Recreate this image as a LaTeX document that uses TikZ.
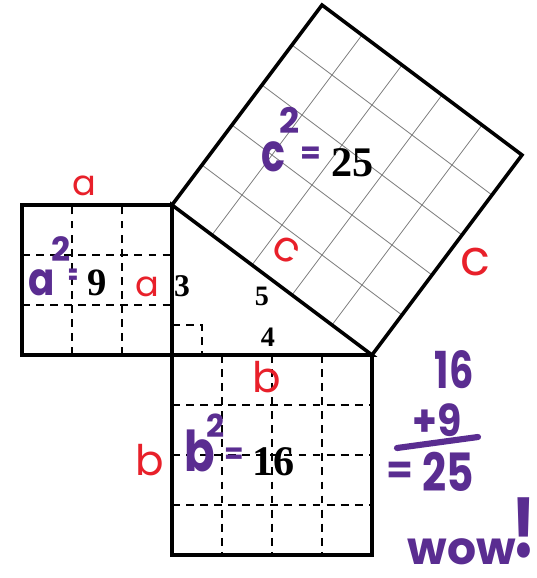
\documentclass[tikz,border=0pt]{standalone}
\usepackage{fontspec}
\setmainfont{Liberation Serif}
\newfontfamily\hand{Poppins}
\usetikzlibrary{calc}
\definecolor{ink}{HTML}{000000}
\definecolor{pen}{HTML}{5A2D91}
\definecolor{redpen}{HTML}{E8202A}
\definecolor{gridgray}{HTML}{7A7A7A}
\newcommand{\fsz}[1]{\fontsize{#1}{#1}\selectfont}
\tikzset{
  sq/.style={draw=ink, line width=2pt},
  cut/.style={draw=ink, dashed, dash pattern=on 4.5pt off 3.5pt, line width=1.1pt},
  fine/.style={draw=gridgray, line width=0.45pt},
  num/.style={font=\bfseries, text=ink, inner sep=0pt},
  redl/.style={font=\hand, text=redpen, inner sep=0pt},
  purl/.style={font=\hand\bfseries, text=pen, inner sep=0pt}
}

\begin{document}
\begin{tikzpicture}
  \fill[white] (-3.44,-4.46) rectangle (7.3,7.1);
  \useasboundingbox (-3.44,-4.46) rectangle (7.3,7.1);

  % triangle corners and square on the hypotenuse
  \coordinate (C) at (0,0);
  \coordinate (A) at (0,3);
  \coordinate (B) at (4,0);
  \coordinate (D) at ($(A)+(3,4)$);
  \coordinate (E) at ($(B)+(3,4)$);

  \foreach \i in {1,...,4}{
    \draw[fine] ($(A)!\i/5!(B)$) -- ($(D)!\i/5!(E)$);
    \draw[fine] ($(A)!\i/5!(D)$) -- ($(B)!\i/5!(E)$);
  }

  % dashed unit grids
  \foreach \i in {1,2}{
    \draw[cut] (-\i,0) -- (-\i,3);
    \draw[cut] (-3,\i) -- (0,\i);
  }
  \foreach \i in {1,2,3}{
    \draw[cut] (\i,0) -- (\i,-4);
    \draw[cut] (0,-\i) -- (4,-\i);
  }
  \draw[cut] (0,0.6) -- (0.6,0.6) -- (0.6,0);

  \draw[sq] (-3,0) rectangle (0,3);
  \draw[sq] (0,0) rectangle (4,-4);
  \draw[sq] (A) -- (D) -- (E) -- (B);
  \draw[sq] (A) -- (C) -- (B) -- cycle;

  % printed numbers
  \node[num] (n3) at (0.2,1.38) {\fsz{18pt}3};
  \node[num] (n5) at (1.8,1.18) {\fsz{16pt}5};
  \node[num] (n4) at (1.92,0.36) {\fsz{16pt}4};
  \node[num] (n9) at (-1.5,1.44) {\fsz{22pt}9};
  \node[num] (n16) at (2.04,-2.14) {\fsz{24pt}16};
  \node[num] (n25) at (3.62,3.84) {\fsz{24pt}25};

  % red side names
  \node[redl] (atop) at (-1.76,3.38) {\fsz{20pt}a};
  \node[redl] (aside) at (-0.5,1.36) {\fsz{20pt}a};
  \node[redl] (btop) at (1.9,-0.44) {\fsz{24pt}b};
  \node[redl] (bside) at (-0.44,-2.1) {\fsz{24pt}b};
  \node[redl, rotate=-30] (chyp) at (2.28,2.1) {\fsz{24pt}c};
  \node[redl] (cside) at (6.06,1.86) {\fsz{28pt}c};

  % purple squares
  \node[purl, xscale=0.85] (asq) at (-2.6,1.44) {\fsz{26pt}a};
  \node[purl] (atwo) at (-2.22,2.12) {\fsz{19pt}2};
  \node[purl, xscale=0.5] (aeq) at (-1.97,1.56) {\fsz{16pt}=};
  \node[purl, xscale=0.8] (bsq) at (0.56,-1.92) {\fsz{32pt}b};
  \node[purl] (btwo) at (0.88,-1.42) {\fsz{18pt}2};
  \node[purl] (beq) at (1.25,-2.02) {\fsz{16pt}=};
  \node[purl, xscale=0.75] (csq) at (2.02,3.96) {\fsz{30pt}c};
  \node[purl] (ctwo) at (2.36,4.7) {\fsz{20pt}2};
  \node[purl] (ceq) at (2.78,4.0) {\fsz{17pt}=};

  % the sum
  \node[purl, xscale=0.75] (s16) at (5.64,-0.3) {\fsz{29pt}16};
  \node[purl, xscale=0.9] (s9) at (5.3,-1.3) {\fsz{25pt}+9};
  \coordinate (ls) at (4.5,-1.86);
  \coordinate (le) at (6.12,-1.64);
  \draw[pen, line width=3.5pt, line cap=round] (ls) -- (le);
  \node[purl] (seq) at (4.56,-2.36) {\fsz{22pt}=};
  \node[purl, xscale=0.8] (s25) at (5.52,-2.34) {\fsz{30pt}25};
  \node[purl] (wow) at (5.8,-3.94) {\fsz{26pt}wow};
  \node[purl, yscale=1.3] (bang) at (7.04,-3.46) {\fsz{36pt}!};
\end{tikzpicture}
\end{document}
